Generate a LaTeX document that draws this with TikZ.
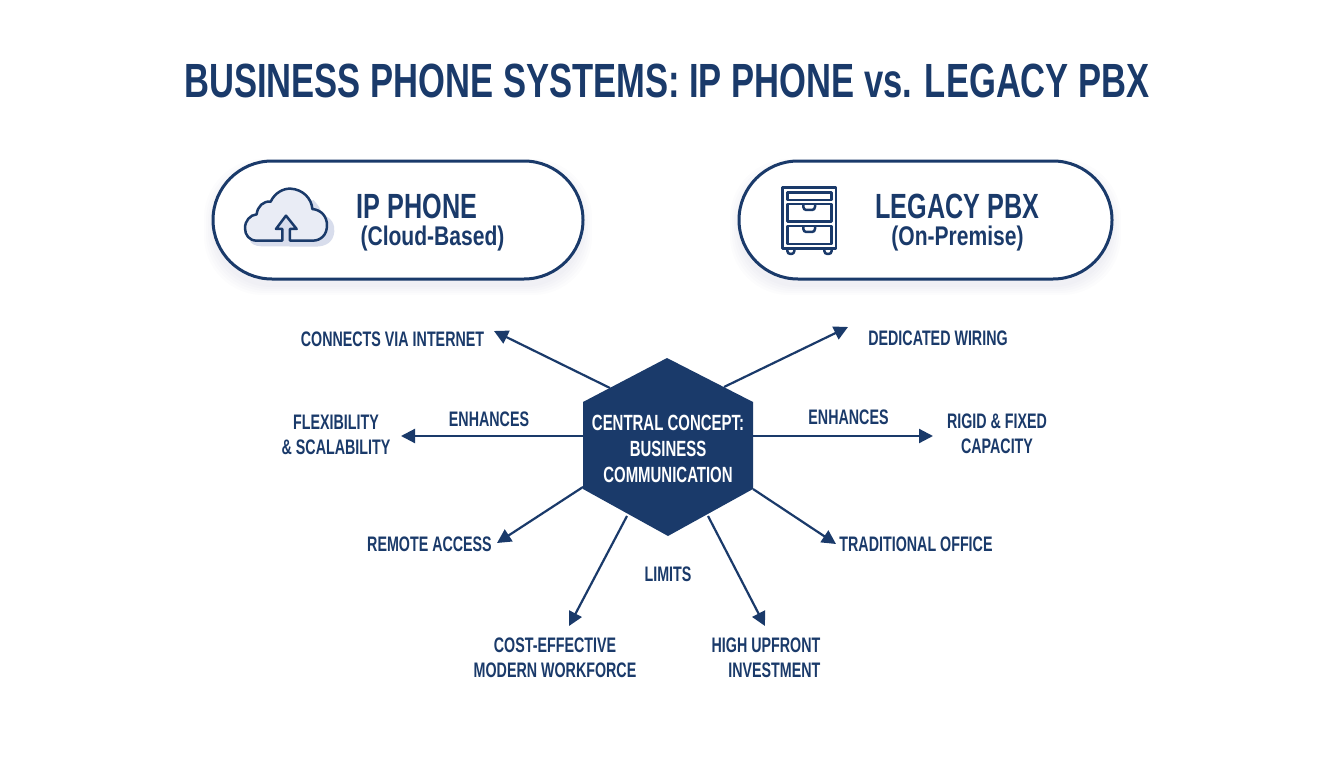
\documentclass[tikz,border=0pt]{standalone}
\usepackage{fontspec}
\setmainfont[FakeStretch=0.68]{Liberation Sans}
\newfontfamily\titlefam[FakeStretch=0.72]{Liberation Sans}
\newfontfamily\headfam[FakeStretch=0.72]{Liberation Sans}
\newfontfamily\subfam[FakeStretch=0.78]{Liberation Sans}
\newfontfamily\hubfam[FakeStretch=0.68]{Liberation Sans}
\usetikzlibrary{arrows.meta,shapes.misc}
\definecolor{navy}{HTML}{1A3A6A}
\definecolor{pale}{HTML}{E9ECF5}
\definecolor{cloudshade}{HTML}{D8DDEC}
\tikzset{
  x=1pt,y=-1pt,
  lbl/.style={text=navy,inner sep=0pt,align=center,font=\bfseries\fontsize{21}{25}\selectfont},
  hubtext/.style={text=white,inner sep=0pt,align=center,font=\hubfam\bfseries\fontsize{22}{26}\selectfont},
  headline/.style={text=navy,inner sep=0pt,font=\headfam\bfseries\fontsize{35}{40}\selectfont},
  subline/.style={text=navy,inner sep=0pt,font=\subfam\fontsize{27}{32}\selectfont\bfseries},
  titletext/.style={text=navy,inner sep=0pt,font=\titlefam\bfseries\fontsize{48}{54}\selectfont},
  pill/.style={rounded rectangle,draw=navy,line width=3pt,fill=white,minimum height=118pt,inner sep=0pt},
  link/.style={draw=navy,line width=2.2pt,-{Triangle[length=14pt,width=14pt]}},
  icon/.style={draw=navy,line width=2.5pt,line join=round},
}
\begin{document}
\begin{tikzpicture}
\useasboundingbox (0,0) rectangle (1344,768);
\fill[white] (0,0) rectangle (1344,768);
% title
\node[titletext] (title) at (667,80.5) {BUSINESS PHONE SYSTEMS: IP PHONE vs. LEGACY PBX};
% pill shadows
\foreach \e in {1,3,...,9}{
  \fill[navy,opacity=0.012,rounded corners=59pt] (213-\e,168-\e) rectangle (583+\e,286+\e);
  \fill[navy,opacity=0.012,rounded corners=59pt] (739-\e,168-\e) rectangle (1112+\e,286+\e);
}
% pills
\node[pill,minimum width=370pt] (ippill) at (398,220) {};
\node[pill,minimum width=373pt] (pbxpill) at (925.5,220) {};
\node[headline] (iphead) at (417,206) {IP PHONE};
\node[subline] (ipsub) at (432.5,239) {(Cloud-Based)};
\node[headline] (pbxhead) at (957.5,206) {LEGACY PBX};
\node[subline] (pbxsub) at (957.5,239) {(On-Premise)};
% cloud icon
\begin{scope}[shift={(200,150)},x=0.3333pt,y=-0.3333pt]
\fill[cloudshade] (185,289) .. controls (165,289) and (150,280) .. (150,270) -- (340,150)
  .. controls (360,170) and (365,185) .. (365,195) .. controls (395,200) and (405,225) .. (403,245)
  .. controls (400,275) and (380,290) .. (345,290) -- cycle;
\path[fill=pale,icon] (247,272) -- (170,272)
  .. controls (148,272) and (135,255) .. (135,235)
  .. controls (135,212) and (150,195) .. (170,193)
  .. controls (172,170) and (190,152) .. (212,155)
  .. controls (225,128) and (250,115) .. (272,116)
  .. controls (308,118) and (335,145) .. (337,177)
  .. controls (365,180) and (381,200) .. (381,226)
  .. controls (381,255) and (362,272) .. (338,272)
  -- (270,272) -- (270,237) -- (290,237) -- (258,197) -- (228,237) -- (247,237) -- cycle;
\end{scope}
% cabinet icon
\begin{scope}[shift={(730,150)},x=0.3333pt,y=-0.3333pt]
\draw[icon] (158,112) rectangle (318,295);
\draw[icon] (172,127) rectangle (304,150);
\draw[icon] (172,162) rectangle (304,215);
\draw[icon] (172,228) rectangle (304,282);
\draw[icon,rounded corners=3pt] (220,164) -- (220,180) -- (255,180) -- (255,164);
\draw[icon,rounded corners=3pt] (220,230) -- (220,246) -- (255,246) -- (255,230);
\draw[icon,rounded corners=3pt] (172,296) -- (172,312) -- (193,312) -- (193,296);
\draw[icon,rounded corners=3pt] (283,296) -- (283,312) -- (305,312) -- (305,296);
\end{scope}
% hub
\fill[navy] (667,358) -- (753,402) -- (753,489) -- (668,536) -- (583,489) -- (583,402) -- cycle;
\node[hubtext] (hub) at (668,449) {CENTRAL CONCEPT:\\BUSINESS\\COMMUNICATION};
% labels
\node[lbl] (connects) at (392.5,339) {CONNECTS VIA INTERNET};
\node[lbl] (wiring) at (938,338) {DEDICATED WIRING};
\node[lbl] (flex) at (336,434.5) {FLEXIBILITY\\\& SCALABILITY};
\node[lbl] (enhL) at (489,419) {ENHANCES};
\node[lbl] (enhR) at (848.5,417) {ENHANCES};
\node[lbl] (rigid) at (997,434) {RIGID \& FIXED\\CAPACITY};
\node[lbl] (remote) at (429.5,544) {REMOTE ACCESS};
\node[lbl] (office) at (916,544) {TRADITIONAL OFFICE};
\node[lbl] (limits) at (668,574) {LIMITS};
\node[lbl] (cost) at (555,658) {COST-EFFECTIVE\\MODERN WORKFORCE};
\node[lbl,align=right] (invest) at (766,658) {HIGH UPFRONT\\INVESTMENT};
% connector ends
\coordinate (s1) at (610,388); \coordinate (e1) at (494,331);
\coordinate (s2) at (724,387); \coordinate (e2) at (848,327);
\coordinate (s3) at (583,436); \coordinate (e3) at (401,436);
\coordinate (s4) at (753,436); \coordinate (e4) at (933,436);
\coordinate (s5) at (583,487); \coordinate (e5) at (497,543);
\coordinate (s6) at (753,489); \coordinate (e6) at (836,544);
\coordinate (s7) at (627,516); \coordinate (e7) at (569,626);
\coordinate (s8) at (708,516); \coordinate (e8) at (765,626);
\foreach \i in {1,...,8}{\draw[link] (s\i) -- (e\i);}
\end{tikzpicture}
\end{document}
